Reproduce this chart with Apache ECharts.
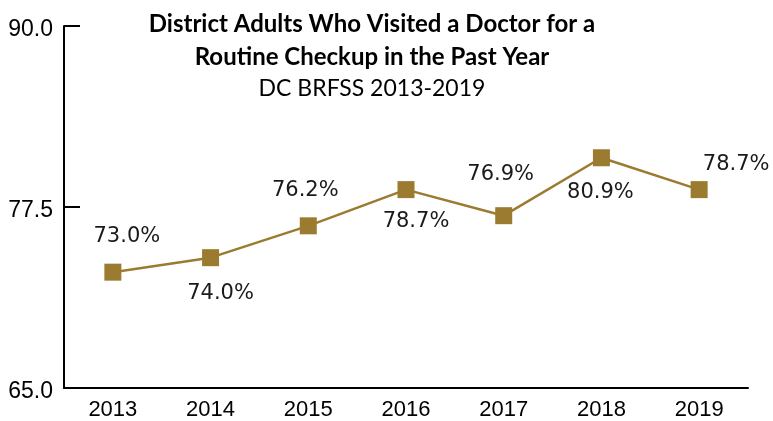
<!DOCTYPE html>
<html>
<head>
<meta charset="utf-8">
<script src="https://cdn.jsdelivr.net/npm/echarts@6/dist/echarts.min.js"></script>
<style>
html,body{margin:0;padding:0;background:#fff;}
#chart{width:773px;height:421px;}
</style>
</head>
<body>
<div id="chart"></div>
<script>
var years = ['2013','2014','2015','2016','2017','2018','2019'];
var values = [73.0, 74.0, 76.2, 78.7, 76.9, 80.9, 78.7];
var yTicks = [65.0, 77.5, 90.0];
var titleLines = ['District Adults Who Visited a Doctor for a', 'Routine Checkup in the Past Year'];
var subtitle = 'DC BRFSS 2013-2019';

// label offsets relative to each point (layout only)
var labelOffsets = [[14,-36],[10,36],[-3,-35],[10,32],[-3,-41],[-1,35],[37,-25]];

var chart = echarts.init(document.getElementById('chart'), null, {renderer:'canvas'});
var color = '#9B7B2F';
chart.setOption({
  animation:false,
  backgroundColor:'#ffffff',
  title:{
    text: titleLines.join('\n'),
    subtext: subtitle,
    left: 367,
    textAlign:'center',
    top: 3,
    itemGap: 0,
    textStyle:{fontFamily:'Lato', fontWeight:'bold', fontSize:24, color:'#000', lineHeight:33},
    subtextStyle:{fontFamily:'Lato', fontWeight:'normal', fontSize:23, color:'#000', lineHeight:30}
  },
  grid:{left:64, right:25, top:26, bottom:31, containLabel:false},
  xAxis:{
    type:'category',
    data: years,
    boundaryGap:true,
    axisLine:{lineStyle:{color:'#000', width:2}},
    axisTick:{inside:true, length:8, lineStyle:{color:'#000', width:1.5}},
    axisLabel:{fontFamily:'Liberation Sans', fontSize:22, color:'#000', margin:11},
    splitLine:{show:false}
  },
  yAxis:{
    type:'value',
    min: yTicks[0], max: yTicks[yTicks.length-1], interval: yTicks[1]-yTicks[0],
    axisLine:{show:true, lineStyle:{color:'#000', width:2}},
    axisTick:{show:true, inside:true, length:16, lineStyle:{color:'#000', width:2}},
    axisLabel:{color:'#000', margin:11,
      formatter:function(v){return '{a|' + v.toFixed(1) + '}';},
      rich:{a:{fontFamily:'Liberation Sans', fontSize:23, color:'#000', padding:[7,0,0,0]}}
    },
    splitLine:{show:false}
  },
  series:[{
    type:'line',
    data: values.map(function(v,i){
      return {value:v, label:{offset:labelOffsets[i]}};
    }),
    symbol:'rect',
    symbolSize:17,
    lineStyle:{color:color, width:2.5},
    itemStyle:{color:color},
    label:{
      show:true,
      position:'inside',
      fontFamily:'DejaVu Sans',
      fontSize:21,
      color:'#1a1a1a',
      formatter:function(p){return p.value.toFixed(1)+'%';}
    }
  }]
});
</script>
</body>
</html>
